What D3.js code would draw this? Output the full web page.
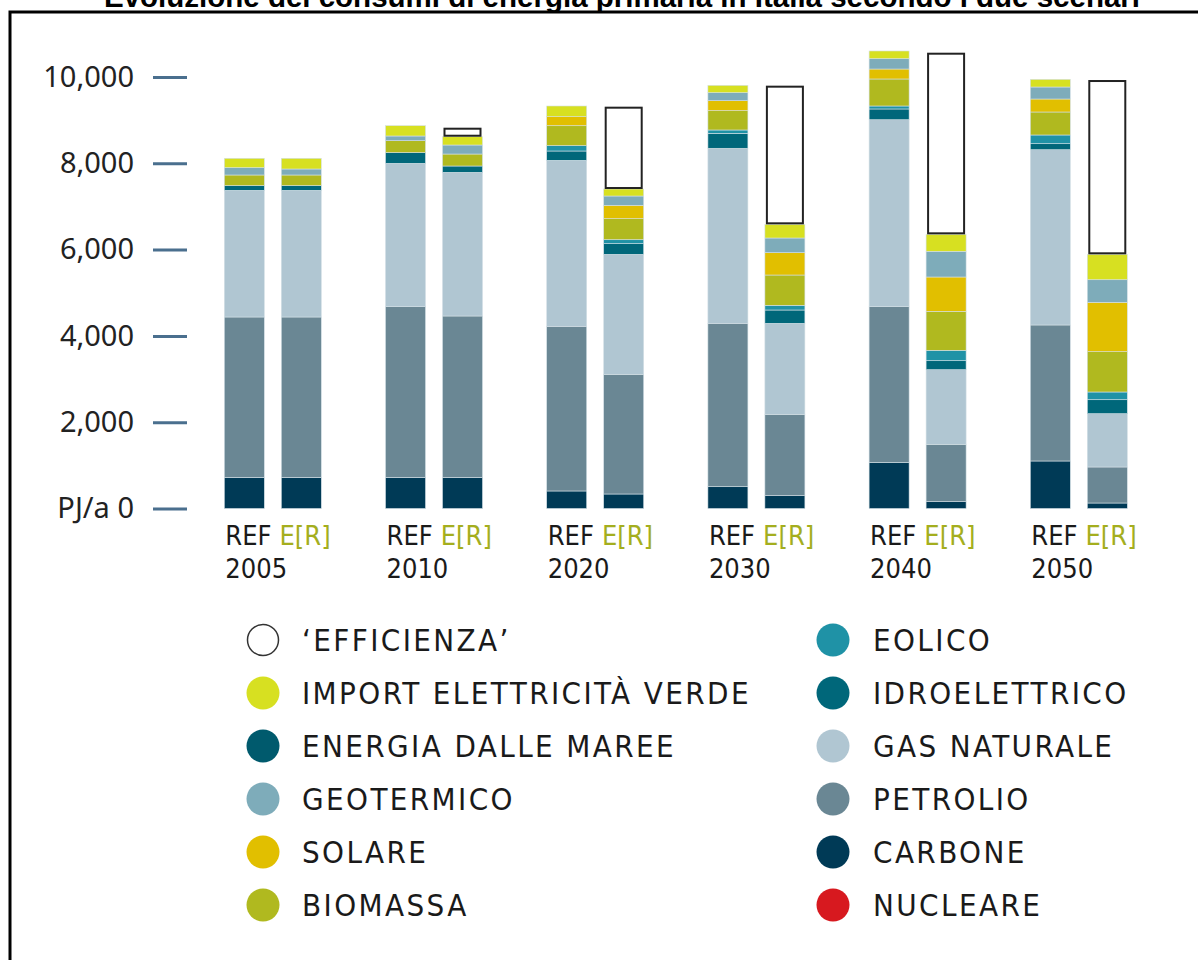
<!DOCTYPE html>
<html>
<head>
<meta charset="utf-8">
<script src="https://cdn.jsdelivr.net/npm/d3@7"></script>
<style>
  body { margin: 0; background: #fff; }
  svg { display: block; }
</style>
</head>
<body>
<svg width="1198" height="960"></svg>
<script>
// Data: one value per bar, order 2005 REF, 2005 E[R], 2010 REF, ...
var years = ['2005', '2010', '2020', '2030', '2040', '2050'];
var scenarios = ['REF', 'E[R]'];
var yTicks = [0, 2000, 4000, 6000, 8000, 10000];

var nucleare     = [0, 0, 0, 0, 0, 0, 0, 0, 0, 0, 0, 0];
var carbone      = [723, 723, 723, 723, 406, 336, 505, 297, 1071, 158, 1101, 127];
var petrolio     = [3715, 3715, 3954, 3738, 3816, 2774, 3787, 1886, 3606, 1330, 3152, 835];
var gasNaturale  = [2936, 2936, 3323, 3330, 3847, 2781, 4056, 2109, 4333, 1729, 4062, 1235];
var idroelettrico = [107, 107, 246, 146, 216, 246, 347, 308, 249, 208, 139, 324];
var maree        = [0, 0, 0, 0, 0, 0, 0, 0, 0, 0, 0, 0];
var eolico       = [0, 0, 0, 0, 123, 92, 77, 109, 69, 241, 202, 179];
var biomassa     = [248, 248, 278, 278, 463, 487, 447, 702, 626, 904, 533, 934];
var solare       = [0, 0, 0, 0, 209, 311, 232, 517, 231, 795, 301, 1145];
var geotermico   = [169, 139, 109, 209, 0, 215, 185, 341, 239, 596, 278, 523];
var importVerde  = [218, 248, 239, 192, 248, 162, 171, 317, 179, 393, 178, 589];
var efficienza   = [0, 0, 0, 209, 0, 1908, 0, 3213, 0, 4209, 0, 4039];

var series = [
  {key: 'nucleare', label: 'NUCLEARE', color: '#d7191f', values: nucleare},
  {key: 'carbone', label: 'CARBONE', color: '#003a56', values: carbone},
  {key: 'petrolio', label: 'PETROLIO', color: '#6a8794', values: petrolio},
  {key: 'gas', label: 'GAS NATURALE', color: '#b0c6d2', values: gasNaturale},
  {key: 'idro', label: 'IDROELETTRICO', color: '#00677a', values: idroelettrico},
  {key: 'maree', label: 'ENERGIA DALLE MAREE', color: '#005a6d', values: maree},
  {key: 'eolico', label: 'EOLICO', color: '#1f92a6', values: eolico},
  {key: 'biomassa', label: 'BIOMASSA', color: '#b0b91f', values: biomassa},
  {key: 'solare', label: 'SOLARE', color: '#e1bf00', values: solare},
  {key: 'geo', label: 'GEOTERMICO', color: '#7eacba', values: geotermico},
  {key: 'import', label: 'IMPORT ELETTRICITÀ VERDE', color: '#d7e021', values: importVerde},
  {key: 'eff', label: '\u2018EFFICIENZA\u2019', color: '#ffffff', values: efficienza}
];

var legendLeft = ['eff', 'import', 'maree', 'geo', 'solare', 'biomassa'];
var legendRight = ['eolico', 'idro', 'gas', 'petrolio', 'carbone', 'nucleare'];

var svg = d3.select('svg');

// title (partly cut at the top, as in the source) and frame
svg.append('text')
    .attr('x', 622)
    .attr('y', 6.5)
    .attr('text-anchor', 'middle')
    .style('font-family', 'Liberation Sans, Arial, sans-serif')
    .style('font-weight', 'bold')
    .style('font-size', '29.5px')
    .text('Evoluzione dei consumi di energia primaria in Italia secondo i due scenari');

svg.append('rect')
    .attr('x', 10).attr('y', 12)
    .attr('width', 1300).attr('height', 1100)
    .attr('fill', 'none')
    .attr('stroke', '#000')
    .attr('stroke-width', 3);

// build rows for the stack
var rows = [];
years.forEach(function(y, i) {
  scenarios.forEach(function(s, j) {
    var row = {year: y, scenario: s};
    series.forEach(function(se) { row[se.key] = se.values[i * 2 + j]; });
    rows.push(row);
  });
});

var xGroup = d3.scaleBand().domain(years).range([224.3, 224.3 + 6 * 161.2]).padding(0).align(0);
var xInner = d3.scaleBand().domain(scenarios).range([0, 97]).paddingInner(0.298).paddingOuter(0);
var yScale = d3.scaleLinear().domain([0, 10000]).range([508.5, 77]);

var stack = d3.stack().keys(series.map(function(d) { return d.key; }));
var layers = stack(rows);

var colorOf = {};
series.forEach(function(d) { colorOf[d.key] = d.color; });

var barsG = svg.append('g');

layers.forEach(function(layer) {
  var isEff = layer.key === 'eff';
  barsG.selectAll('.bar-' + layer.key)
    .data(layer.filter(function(d) { return d[1] - d[0] > 0; }))
    .enter().append('rect')
      .attr('class', 'bar-' + layer.key)
      .attr('x', function(d) {
        return xGroup(d.data.year) + xInner(d.data.scenario) + (isEff ? 2 : 0);
      })
      .attr('y', function(d) { return yScale(d[1]) + (isEff ? 1 : 0); })
      .attr('width', xInner.bandwidth() - (isEff ? 4 : 0))
      .attr('height', function(d) { return yScale(d[0]) - yScale(d[1]) - (isEff ? 2 : 0); })
      .attr('fill', colorOf[layer.key])
      .attr('stroke', isEff ? '#222' : '#d4e0e6')
      .attr('stroke-width', isEff ? 2 : 0.6);
});

// y axis
var yAxis = d3.axisLeft(yScale)
    .tickValues(yTicks)
    .tickSize(34)
    .tickPadding(19)
    .tickFormat(function(d) { return d === 0 ? 'PJ/a 0' : d3.format(',')(d); });

var axisG = svg.append('g')
    .attr('transform', 'translate(187,0)')
    .call(yAxis);
axisG.select('.domain').remove();
axisG.selectAll('.tick line')
    .attr('stroke', '#4a6f8e')
    .attr('stroke-width', 3);
axisG.selectAll('.tick text')
    .attr('fill', '#222')
    .style('font-family', 'Noto Sans, Open Sans, sans-serif')
    .style('font-size', '29px');

// x labels
var labelFont = 'Liberation Sans Narrow, DejaVu Sans Condensed, Roboto, sans-serif';
var xLab = svg.append('g').selectAll('.xlab')
    .data(years)
    .enter().append('g')
    .attr('class', 'xlab')
    .attr('transform', function(d) { return 'translate(' + (xGroup(d) + 1) + ',0)'; })
    .style('font-family', labelFont)
    .style('font-size', '27px');

var scen = xLab.append('text').attr('y', 545);
scen.append('tspan').attr('fill', '#1a1a1a').text('REF');
scen.append('tspan').attr('fill', '#a4ae1e').attr('dx', 8).text('E[R]');

xLab.append('text')
    .attr('y', 578)
    .attr('fill', '#1a1a1a')
    .text(function(d) { return d; });

// legend
var legendRowY = d3.scalePoint().domain(d3.range(6)).range([640, 905]);

function drawLegend(keys, cx, tx) {
  var g = svg.append('g').selectAll('.leg')
      .data(keys)
      .enter().append('g')
      .attr('transform', function(d, i) { return 'translate(0,' + legendRowY(i) + ')'; });

  g.append('circle')
      .attr('cx', cx)
      .attr('r', function(d) { return d === 'eff' ? 15.5 : 16.5; })
      .attr('fill', function(d) { return colorOf[d]; })
      .attr('stroke', function(d) { return d === 'eff' ? '#333' : 'none'; })
      .attr('stroke-width', 1.5);

  g.append('text')
      .attr('x', tx)
      .attr('dy', '0.36em')
      .attr('fill', '#1a1a1a')
      .style('font-family', labelFont)
      .style('font-size', '31px')
      .style('letter-spacing', '2.4px')
      .text(function(d) { return series.find(function(s) { return s.key === d; }).label; });
}

drawLegend(legendLeft, 263, 302);
drawLegend(legendRight, 833, 873);
</script>
</body>
</html>
